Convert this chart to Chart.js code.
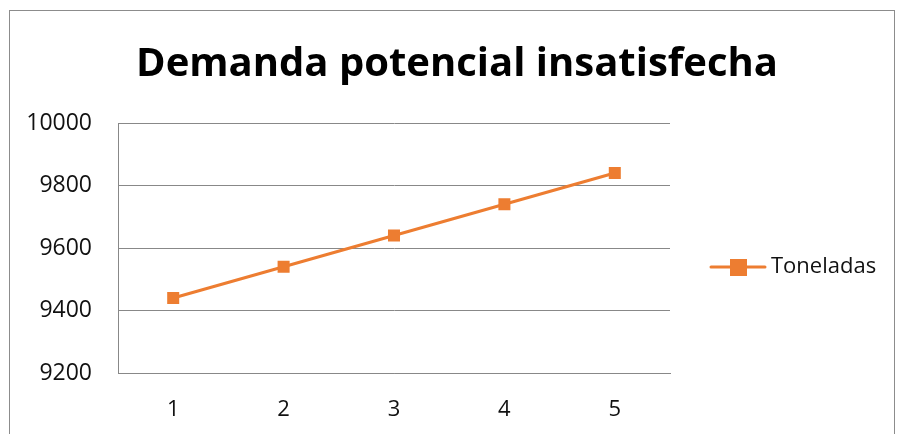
<!DOCTYPE html>
<html lang="es">
<head>
    <meta charset="UTF-8">
    <title>Demanda potencial insatisfecha</title>
    <script src="https://cdn.jsdelivr.net/npm/chart.js"></script>
    <style>
    html, body {
        margin: 0;
        padding: 0;
        background: #fff;
        overflow: hidden;
    }
    #frame {
        position: absolute;
        left: 9px;
        top: 10px;
        width: 884px;
        height: 440px;
        border: 1px solid #8c8c8c;
        overflow: hidden;
    }
    #frame canvas {
        display: block;
    }
</style>
</head>
<body>
    <div id="frame">
        <canvas id="demandChart" width="897" height="423"></canvas>
    </div>
    <script>
        // datos del gráfico
        const title = 'Demanda potencial insatisfecha';
        const seriesName = 'Toneladas';
        const periods = ['1', '2', '3', '4', '5'];
        const tons = [9440, 9540, 9640, 9740, 9840];

        const orange = '#ED7D31';
        const grey = '#888888';
        const fontFamily = '"Open Sans", "Liberation Sans", sans-serif';

        // título y leyenda dibujados a mano (como en Excel)
        const excelPlugin = {
            id: 'excelDecor',
            afterDraw(chart) {
                const ctx = chart.ctx;
                ctx.save();
                // título centrado sobre todo el marco
                ctx.fillStyle = '#000';
                ctx.font = 'bold 40px ' + fontFamily;
                ctx.textAlign = 'center';
                ctx.textBaseline = 'alphabetic';
                ctx.fillText(title, 447, 65);

                // leyenda: línea + cuadrado
                const x = chart.chartArea.right + 41;
                const y = (chart.chartArea.top + chart.chartArea.bottom) / 2 + 19;
                ctx.strokeStyle = orange;
                ctx.lineWidth = 3;
                ctx.lineCap = 'round';
                ctx.beginPath();
                ctx.moveTo(x, y);
                ctx.lineTo(x + 54, y);
                ctx.stroke();
                ctx.fillStyle = orange;
                ctx.fillRect(x + 19, y - 8, 17, 17);
                ctx.fillStyle = '#111';
                ctx.font = '22px ' + fontFamily;
                ctx.textAlign = 'left';
                ctx.textBaseline = 'middle';
                ctx.fillText(seriesName, x + 60, y);
                ctx.restore();
            }
        };

        const ctx = document.getElementById('demandChart').getContext('2d');
        new Chart(ctx, {
            type: 'line',
            data: {
                labels: periods,
                datasets: [{
                    label: seriesName,
                    data: tons,
                    borderColor: orange,
                    backgroundColor: orange,
                    borderWidth: 3,
                    pointStyle: 'rect',
                    pointRadius: 8.5,
                    pointHoverRadius: 8.5,
                    pointBorderWidth: 0,
                    tension: 0
                }]
            },
            options: {
                responsive: false,
                animation: false,
                layout: {
                    padding: { left: 0, right: 237, top: 112, bottom: 0 }
                },
                plugins: {
                    legend: { display: false },
                    tooltip: { enabled: false },
                    title: { display: false }
                },
                scales: {
                    x: {
                        offset: true,
                        grid: { display: false, drawTicks: false },
                        border: { display: true, color: grey, width: 1 },
                        ticks: {
                            color: '#111',
                            padding: 24,
                            font: { family: fontFamily, size: 22 }
                        },
                        afterFit(scale) { scale.height = 61; }
                    },
                    y: {
                        min: 9200,
                        max: 10000,
                        grid: { color: grey, drawTicks: false },
                        border: { display: true, color: grey, width: 1 },
                        ticks: {
                            stepSize: 200,
                            color: '#111',
                            padding: 26,
                            font: { family: fontFamily, size: 23 },
                            callback: value => String(value)
                        },
                        afterFit(scale) { scale.width = 108; }
                    }
                }
            },
            plugins: [excelPlugin]
        });
    </script>
</body>
</html>
